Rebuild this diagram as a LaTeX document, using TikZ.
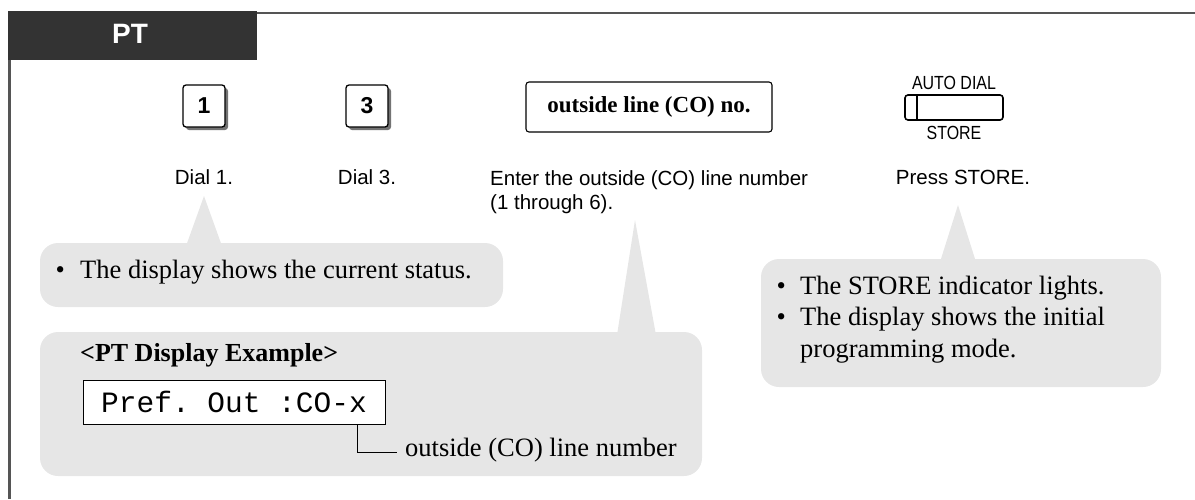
\documentclass[tikz,border=0pt]{standalone}
\usepackage{fontspec}
\setmainfont{Liberation Serif}
\setsansfont{Liberation Sans}
\setmonofont{Liberation Mono}
\usetikzlibrary{shadows}
\definecolor{hdr}{HTML}{333333}
\definecolor{callg}{HTML}{E6E6E6}
\definecolor{frameg}{HTML}{555555}
\begin{document}
\begin{tikzpicture}[x=1pt,y=-1pt,
  key/.style={draw, line width=1.3pt, rounded corners=3pt, fill=white,
    minimum width=42pt, minimum height=42pt, inner sep=0pt,
    font=\sffamily\bfseries\fontsize{23}{26}\selectfont,
    drop shadow={shadow xshift=3pt, shadow yshift=-3pt, fill=black!55, opacity=1}},
  lbl/.style={font=\sffamily\fontsize{20.5}{24}\selectfont, inner sep=0pt, anchor=base},
  small/.style={font=\sffamily\fontsize{19}{22}\selectfont, inner sep=0pt, anchor=base},
  ctext/.style={font=\rmfamily\fontsize{26.5}{31.5}\selectfont, inner sep=0pt, anchor=base west},
  bubble/.style={fill=callg},
]
\useasboundingbox (0,0) rectangle (1195,499);

% frame
\draw[frameg, line width=2pt] (257,12.5) -- (1195,12.5);
\draw[frameg, line width=2.5pt] (9.5,60) -- (9.5,499);
\fill[hdr] (8,11) rectangle (257,60);
\node[font=\sffamily\bfseries\fontsize{28}{32}\selectfont, text=white, inner sep=0pt] (pt) at (130,34) {PT};

% callout bubbles
\fill[bubble, rounded corners=18pt] (40,243) rectangle (503,307);
\fill[bubble] (186,246) -- (204,196) -- (222,246) -- cycle;
\fill[bubble, rounded corners=18pt] (40,332) rectangle (702,476);
\fill[bubble] (617,335) -- (635,220) -- (656,335) -- cycle;
\fill[bubble, rounded corners=18pt] (761,259) rectangle (1161,387);
\fill[bubble] (940,262) -- (958,205) -- (976,262) -- cycle;

% keys
\node[key] (k1) at (204,106) {1};
\node[key] (k3) at (367,106) {3};
\node[draw, line width=1.1pt, rounded corners=3pt, minimum width=246pt, minimum height=50pt,
  inner sep=0pt, font=\rmfamily\bfseries\fontsize{23}{26}\selectfont] (co) at (649,107) {outside line (CO) no.};
\node[draw, line width=1.6pt, rounded corners=3pt, minimum width=98pt, minimum height=25pt, inner sep=0pt] (btn) at (954,107.5) {};
\draw[line width=1.6pt] ([xshift=13pt]btn.north west) -- ([xshift=13pt]btn.south west);
\node[small] (ad) at (954,89) {\scalebox{0.84}[1]{AUTO DIAL}};
\node[small] (st) at (954,139) {\scalebox{0.84}[1]{STORE}};

% step labels
\node[lbl] (l1) at (204,184) {Dial 1.};
\node[lbl] (l3) at (367,184) {Dial 3.};
\node[lbl, anchor=base west] (lcoa) at (490,185) {Enter the outside (CO) line number};
\node[lbl, anchor=base west] (lcob) at (490,209) {(1 through 6).};
\node[lbl] (lst) at (963,184) {Press STORE.};

% callout texts
\node[ctext] (c1) at (55.5,278) {\makebox[24.5pt][l]{\textbullet}The display shows the current status.};
\node[ctext] (c3a) at (776.5,294) {\makebox[23.5pt][l]{\textbullet}The STORE indicator lights.};
\node[ctext] (c3b) at (776.5,325.5) {\makebox[23.5pt][l]{\textbullet}The display shows the initial};
\node[ctext] (c3c) at (800,357) {programming mode.};

\node[ctext, font=\rmfamily\bfseries\fontsize{26}{30}\selectfont] (ex) at (80,361) {<PT Display Example>};
\node[draw, line width=1pt, fill=white, minimum width=302pt, minimum height=44pt, inner sep=0pt,
  font=\ttfamily\fontsize{29.5}{32}\selectfont] (disp) at (234,402) {Pref. Out :CO-x};
\node[ctext] (lt) at (405,456) {outside (CO) line number};
\coordinate (lk) at (357,0);
\draw[line width=1pt] (disp.south -| lk) |- ([xshift=-8pt,yshift=-3pt]lt.west);
\end{tikzpicture}
\end{document}
